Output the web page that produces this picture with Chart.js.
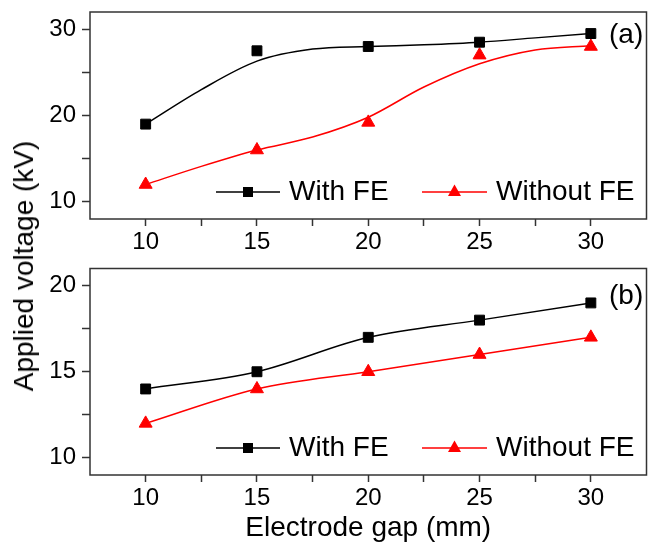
<!DOCTYPE html>
<html>
<head>
<meta charset="utf-8">
<script src="https://cdn.jsdelivr.net/npm/chart.js@4.4.0/dist/chart.umd.min.js"></script>
<style>
  body { margin: 0; background: #fff; }
  #wrap { position: relative; width: 649px; height: 549px; overflow: hidden; }
  #panel-a { position: absolute; left: 0; top: 0; }
  #panel-b { position: absolute; left: 0; top: 260px; }
  #ytitle {
    position: absolute; left: 24px; top: 266px;
    transform: translate(-50%, -50%) rotate(-90deg);
    font: 28px "Liberation Sans", Arial, sans-serif; color: #000; white-space: nowrap;
  }
</style>
</head>
<body>
<div id="wrap">
  <canvas id="panel-a" width="655" height="260"></canvas>
  <canvas id="panel-b" width="655" height="289"></canvas>
  <div id="ytitle">Applied voltage (kV)</div>
</div>
<script>
// electrode gap (mm)
const gaps = [10, 15, 20, 25, 30];
const xTicks = [10, 12.5, 15, 17.5, 20, 22.5, 25, 27.5, 30];

// panel (a): measured points
const aWithFE = [19, 27.5, 28, 28.5, 29.5];
const aWithoutFE = [12, 16, 19.2, 27, 28];
// panel (a): smoothed curves as drawn (read at every 2.5 mm)
const aWithFECurve = [19, 23.0, 26.3, 27.7, 28, 28.2, 28.5, 29.0, 29.5];
const aWithoutFECurve = [12, 14.1, 16.0, 17.5, 19.8, 23.3, 26.0, 27.6, 28.1];
const aYTicks = [10, 15, 20, 25, 30];

// panel (b)
const bWithFE = [14, 15, 17, 18, 19];
const bWithoutFE = [12, 14, 15, 16, 17];
const bYTicks = [10, 12.5, 15, 17.5, 20];

const FONT = "'Liberation Sans', Arial, sans-serif";
const BLACK = '#000000';
const RED = '#ff0000';

function pares(xs, ys) {
  return xs.map((x, i) => ({ x: x, y: ys[i] }));
}

// box round the plot area
const marco = {
  id: 'marco',
  afterDraw(chart) {
    const { ctx, chartArea: a } = chart;
    ctx.save();
    ctx.strokeStyle = '#333';
    ctx.lineWidth = 1.5;
    ctx.strokeRect(a.left, a.top, a.right - a.left, a.bottom - a.top);
    ctx.restore();
  }
};

// legend line-marker-line, plus panel letter
const leyenda = {
  id: 'leyenda',
  afterDraw(chart, args, opts) {
    const ctx = chart.ctx;
    const y = chart.chartArea.bottom - 27;
    ctx.save();
    ctx.font = '28px ' + FONT;
    ctx.textBaseline = 'middle';
    ctx.fillStyle = '#000';
    ctx.fillText(opts.letra, 609, opts.letraY);

    const items = [
      { x0: 216, x1: 280, color: BLACK, tipo: 'rect', texto: 'With FE', tx: 289 },
      { x0: 422, x1: 487, color: RED, tipo: 'triangle', texto: 'Without FE', tx: 496 }
    ];
    items.forEach(it => {
      ctx.strokeStyle = it.color;
      ctx.lineWidth = 1.5;
      ctx.beginPath();
      ctx.moveTo(it.x0, y);
      ctx.lineTo(it.x1, y);
      ctx.stroke();
      const cx = (it.x0 + it.x1) / 2;
      ctx.fillStyle = it.color;
      if (it.tipo === 'rect') {
        ctx.fillRect(cx - 5, y - 5, 10, 10);
      } else {
        ctx.beginPath();
        ctx.moveTo(cx, y - 7.5);
        ctx.lineTo(cx + 6.5, y + 4);
        ctx.lineTo(cx - 6.5, y + 4);
        ctx.closePath();
        ctx.fill();
      }
      ctx.fillStyle = '#000';
      ctx.fillText(it.texto, it.tx, y);
    });
    ctx.restore();
  }
};

function ejeX(alto, conTitulo) {
  return {
    type: 'linear', min: 7.5, max: 32.5,
    afterBuildTicks: s => { s.ticks = xTicks.map(v => ({ value: v })); },
    afterFit: s => { s.height = alto; s.paddingLeft = 0; s.paddingRight = 0; },
    grid: { drawOnChartArea: false, tickLength: 7, tickColor: '#333', tickWidth: 1.5 },
    border: { display: false },
    ticks: {
      autoSkip: false, maxRotation: 0, padding: 2, color: '#000',
      font: { family: FONT, size: 24 },
      callback: v => (v % 5 === 0 ? v : '')
    },
    title: {
      display: conTitulo, text: 'Electrode gap (mm)', color: '#000',
      font: { family: FONT, size: 28 }, padding: { top: 0, bottom: 4 }
    }
  };
}

function ejeY(min, max, marcas, paso) {
  return {
    type: 'linear', min: min, max: max,
    afterBuildTicks: s => { s.ticks = marcas.map(v => ({ value: v })); },
    afterFit: s => { s.width = 90; s.paddingTop = 0; s.paddingBottom = 0; },
    grid: { drawOnChartArea: false, tickLength: 8, tickColor: '#333', tickWidth: 1.5 },
    border: { display: false },
    ticks: {
      padding: 6, color: '#000',
      font: { family: FONT, size: 24 },
      callback: v => (v % paso === 0 ? v : '')
    }
  };
}

function serieLinea(xs, ys, color) {
  return {
    data: pares(xs, ys), borderColor: color, borderWidth: 1.5,
    pointRadius: 0, cubicInterpolationMode: 'monotone', fill: false, order: 2
  };
}

function serieMarcas(xs, ys, color, estilo, radio) {
  return {
    data: pares(xs, ys), showLine: false, pointStyle: estilo, pointRadius: radio,
    pointBackgroundColor: color, pointBorderColor: color, pointBorderWidth: 1, order: 1
  };
}

function crearPanel(id, datasets, ejeXcfg, ejeYcfg, paddingTop, letra, letraY) {
  return new Chart(document.getElementById(id).getContext('2d'), {
    type: 'line',
    data: { datasets: datasets },
    options: {
      responsive: false, animation: false,
      layout: { padding: { top: paddingTop, left: 0, right: 1, bottom: 0 } },
      scales: { x: ejeXcfg, y: ejeYcfg },
      plugins: { legend: { display: false }, tooltip: { enabled: false }, leyenda: { letra: letra, letraY: letraY } }
    },
    plugins: [marco, leyenda]
  });
}

crearPanel('panel-a', [
  serieLinea(xTicks, aWithFECurve, BLACK),
  serieLinea(xTicks, aWithoutFECurve, RED),
  serieMarcas(gaps, aWithFE, BLACK, 'rect', 7),
  serieMarcas(gaps, aWithoutFE, RED, 'triangle', 7.5)
], ejeX(41, false), ejeY(8, 32, aYTicks, 10), 12, '(a)', 35);

crearPanel('panel-b', [
  serieLinea(gaps, bWithFE, BLACK),
  serieLinea(gaps, bWithoutFE, RED),
  serieMarcas(gaps, bWithFE, BLACK, 'rect', 7),
  serieMarcas(gaps, bWithoutFE, RED, 'triangle', 7.5)
], ejeX(74, true), ejeY(9, 21, bYTicks, 5), 7, '(b)', 36);
</script>
</body>
</html>
